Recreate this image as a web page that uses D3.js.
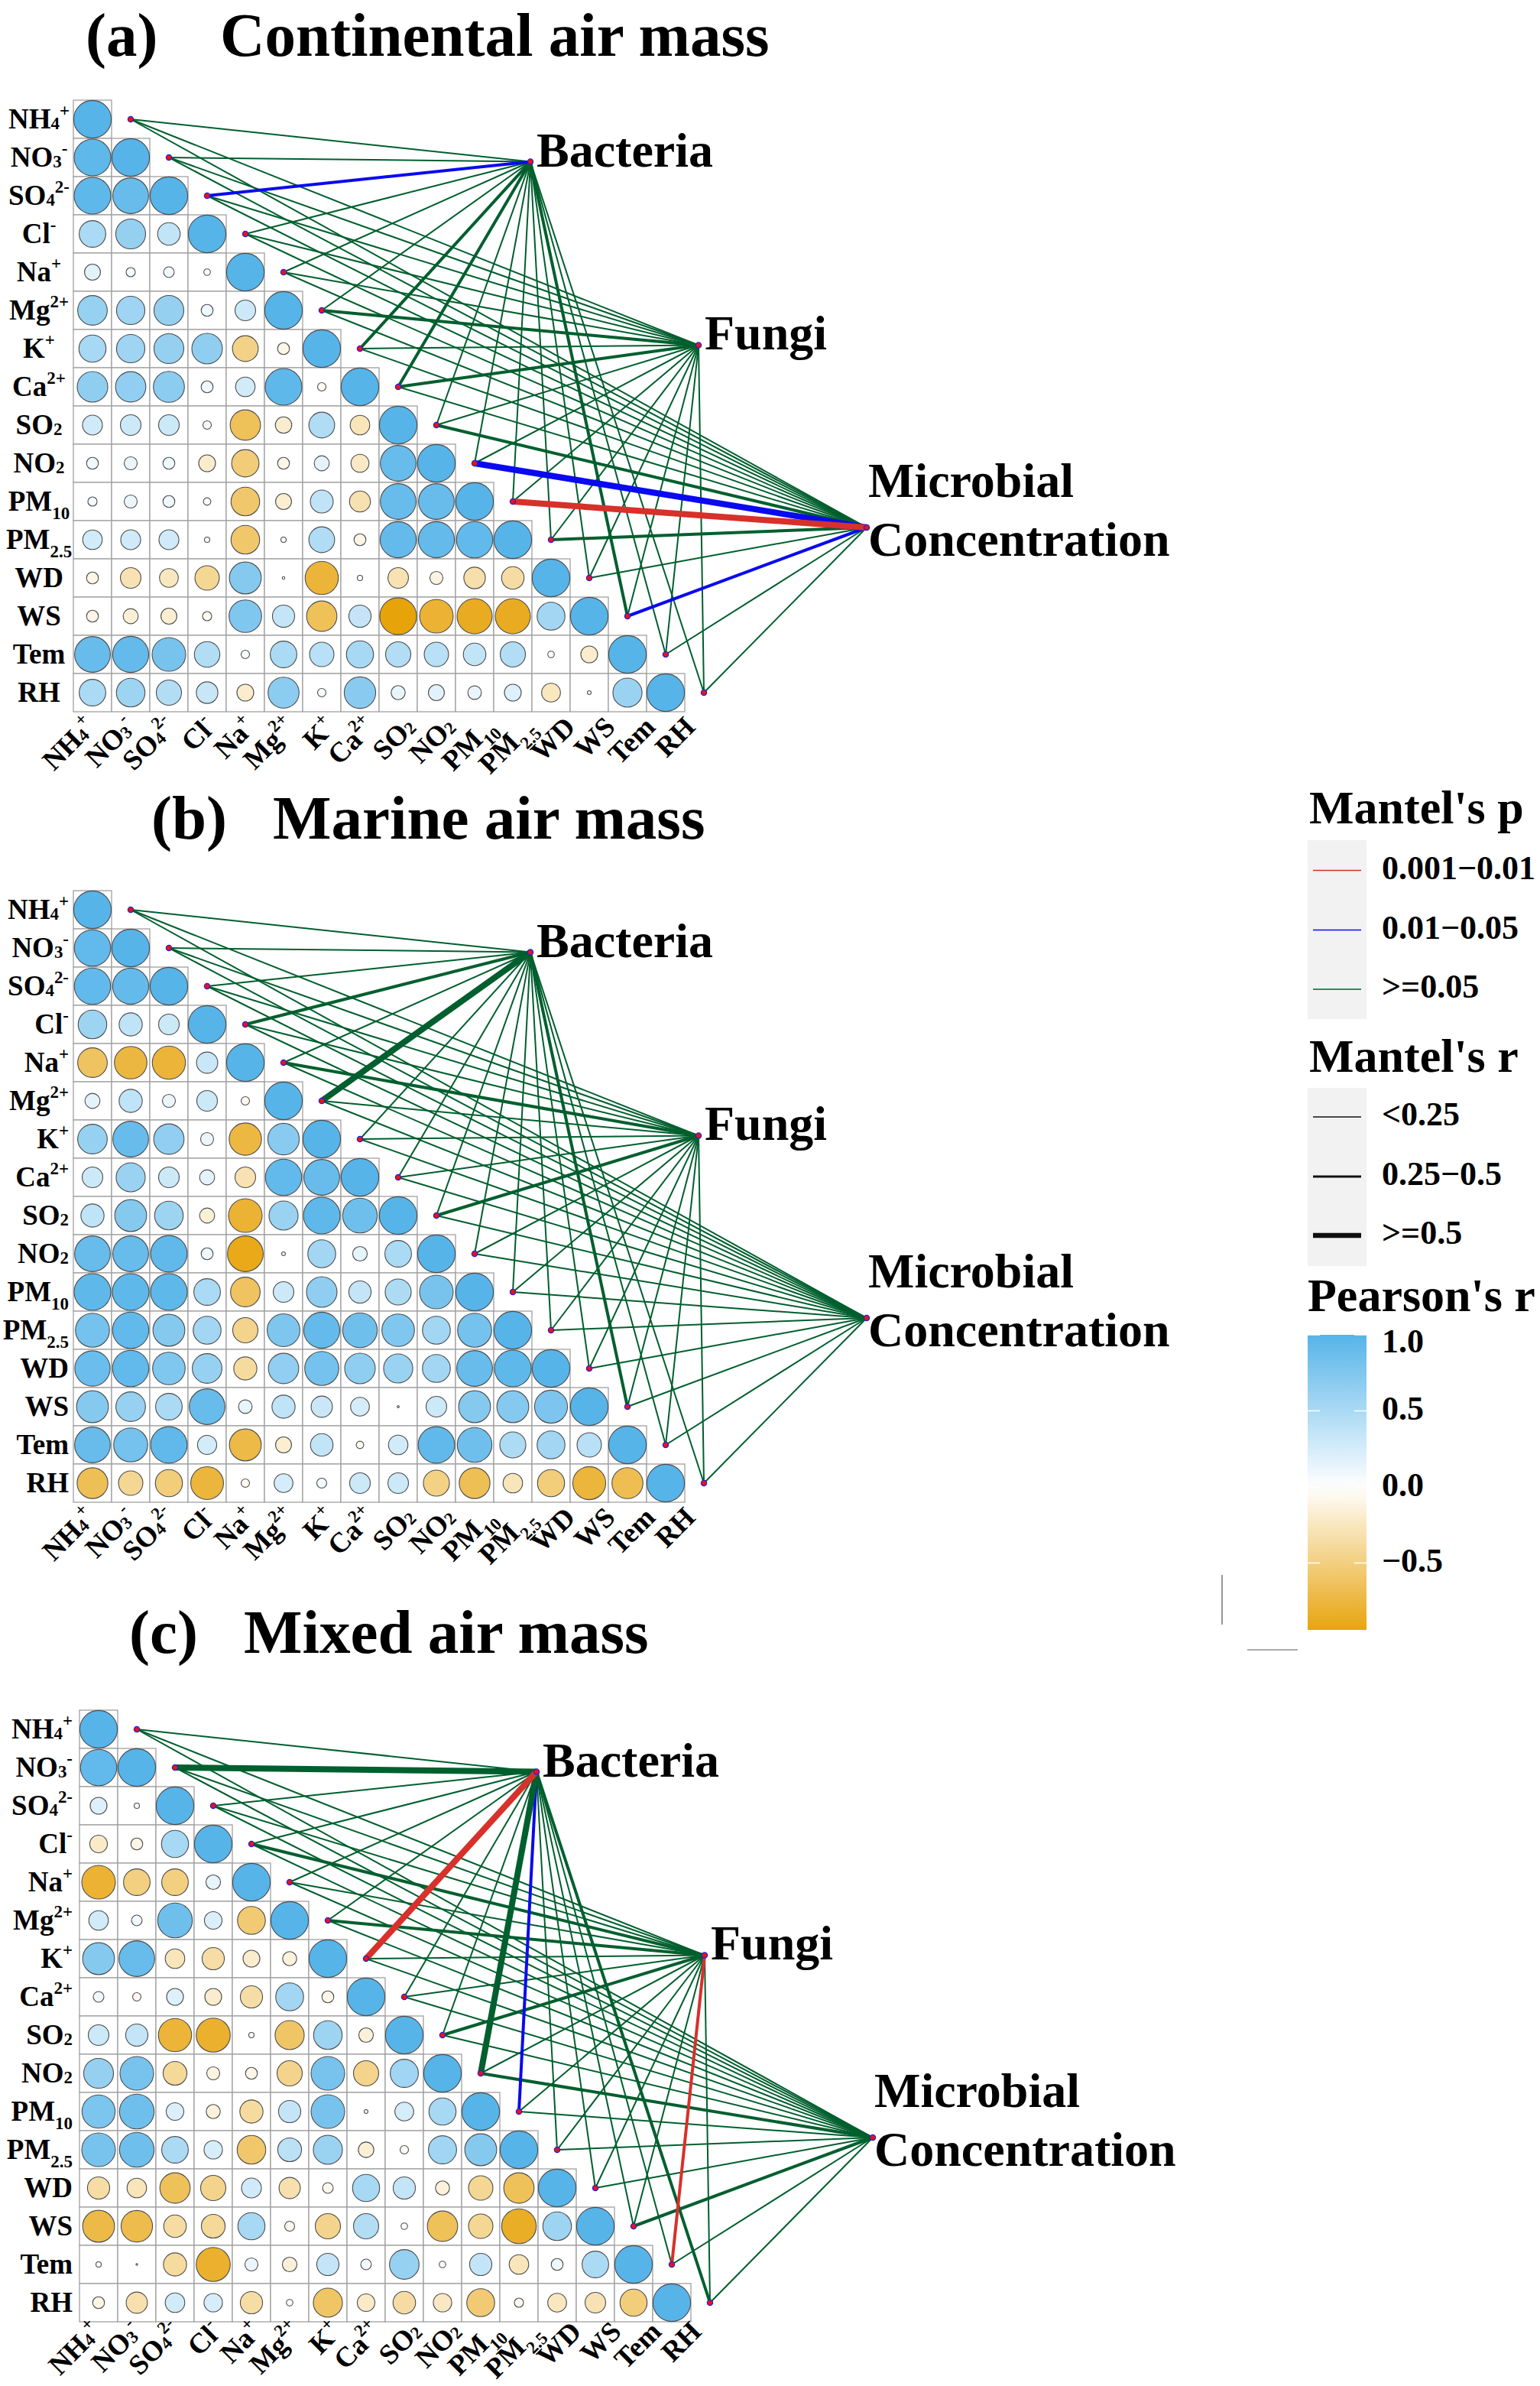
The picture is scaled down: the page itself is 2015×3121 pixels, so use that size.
<!DOCTYPE html>
<html><head><meta charset="utf-8">
<script src="https://cdn.jsdelivr.net/npm/d3@7"></script>
<style>body{margin:0;background:#fff} svg{display:block}</style>
</head><body><svg id="chart" width="2015" height="3121"></svg>
<script>
// ---------------- DATA ----------------
const variables = ["NH4+","NO3-","SO42-","Cl-","Na+","Mg2+","K+","Ca2+","SO2","NO2","PM10","PM2.5","WD","WS","Tem","RH"];
const targets = ["Bacteria","Fungi","Microbial Concentration"];
const panelTitles = [["(a)","Continental air mass"],["(b)","Marine air mass"],["(c)","Mixed air mass"]];

// Pearson's r, lower triangle (row i: columns 0..i)
const corrA = [
 [1],
 [.95,1],
 [.95,.9,1],
 [.5,.63,.36,1],
 [.18,.06,.08,.03,1],
 [.62,.57,.63,.1,.3,1],
 [.52,.57,.63,.66,-.47,-.1,1],
 [.66,.65,.68,.1,.27,.95,-.05,1],
 [.28,.3,.3,.05,-.65,-.19,.47,-.27,1],
 [.1,.12,.1,-.2,-.53,-.1,.16,-.23,.9,1],
 [.06,.12,.1,.04,-.58,-.18,.37,-.31,.9,.9,1],
 [.27,.28,.28,.02,-.58,.02,.47,-.1,.92,.92,.93,1],
 [-.1,-.3,-.25,-.42,.72,.005,-.78,.02,-.3,-.12,-.33,-.36,1],
 [-.1,-.16,-.18,-.06,.75,.35,-.65,.35,-.96,-.8,-.87,-.87,.55,1],
 [.9,.92,.8,.46,.05,.5,.42,.52,.45,.42,.36,.45,.03,-.2,1],
 [.5,.58,.45,.33,-.2,.68,.05,.7,.14,.18,.13,.2,-.25,.01,.6,1]
];
const corrB = [
 [1],
 [.93,1],
 [.93,.92,1],
 [.58,.38,.3,1],
 [-.62,-.75,-.78,.32,1],
 [.16,.38,.12,.3,-.05,1],
 [.62,.9,.65,.12,-.74,.7,1],
 [.3,.6,.3,.16,-.3,.93,.9,1],
 [.38,.72,.58,-.16,-.8,.6,.95,.85,1],
 [.9,.9,.94,.1,-.9,.01,.55,.15,.5,1],
 [.95,.95,.95,.5,-.62,.3,.66,.35,.48,.8,1],
 [.82,.93,.72,.55,-.45,.76,.92,.85,.75,.55,.82,1],
 [.88,.93,.75,.62,-.38,.65,.82,.66,.6,.55,.9,.95,1],
 [.72,.62,.5,.9,.13,.38,.32,.25,.003,.3,.72,.72,.77,1],
 [.9,.82,.94,.26,-.72,-.18,.36,-.04,.27,.94,.85,.48,.55,.42,1],
 [-.67,-.42,-.52,-.76,-.05,.25,.07,.3,.3,-.48,-.67,-.27,-.52,-.77,-.68,1]
];
const corrC = [
 [1],
 [.93,1],
 [.2,.02,1],
 [-.22,-.1,.52,1],
 [-.8,-.5,-.5,.15,1],
 [.27,.08,.85,.22,-.55,1],
 [.72,.9,-.27,-.35,-.2,-.14,1],
 [.08,-.05,.2,-.2,-.35,.55,-.1,1],
 [.3,.35,-.78,-.82,-.02,-.6,.58,-.15,1],
 [.63,.8,-.4,-.12,-.1,-.45,.8,-.45,.56,1],
 [.78,.85,.22,-.14,-.38,.35,.8,.01,.25,.52,1],
 [.8,.85,.5,.24,-.58,.4,.6,-.17,-.05,.56,.72,1],
 [-.35,-.27,-.65,-.45,.28,-.32,-.08,.52,.35,-.14,-.42,-.65,1],
 [-.72,-.7,-.36,-.4,.52,-.07,-.45,.45,.03,-.65,-.42,-.85,.58,1],
 [.02,.002,-.38,-.82,.12,-.15,.35,.08,.62,-.03,.35,-.27,.1,.5,1],
 [-.1,-.32,.27,.24,-.35,.03,-.6,-.22,-.36,-.24,-.55,-.06,-.25,-.3,-.52,1]
];

// Mantel's r and p: per variable, [Bacteria, Fungi, Microbial Concentration]
const mantelR_A = [[.08,.06,.1],[.1,.07,.12],[.32,.1,.09],[.09,.11,.08],[.05,.1,.07],[.12,.3,.1],[.3,.12,.1],[.33,.31,.09],[.1,.12,.3],[.11,.1,.56],[.12,.1,.52],[.1,.13,.3],[.09,.08,.1],[.28,.1,.3],[.1,.08,.12],[.07,.1,.09]];
const mantelP_A = [[.4,.5,.3],[.3,.4,.5],[.03,.3,.4],[.5,.3,.4],[.6,.4,.5],[.3,.1,.4],[.1,.3,.4],[.08,.1,.4],[.4,.3,.1],[.3,.4,.03],[.3,.4,.005],[.4,.3,.1],[.5,.6,.4],[.1,.4,.03],[.4,.5,.3],[.6,.4,.5]];
const mantelR_B = [[.1,.08,.06],[.09,.1,.07],[.1,.11,.08],[.3,.1,.09],[.12,.3,.1],[.55,.1,.08],[.1,.12,.09],[.11,.1,.07],[.1,.32,.1],[.08,.1,.12],[.09,.1,.1],[.1,.08,.11],[.07,.1,.09],[.3,.1,.1],[.1,.09,.08],[.08,.1,.1]];
const mantelP_B = [[.3,.4,.5],[.4,.3,.5],[.3,.3,.4],[.1,.4,.5],[.3,.1,.4],[.06,.3,.5],[.4,.3,.4],[.3,.4,.5],[.4,.1,.4],[.5,.4,.3],[.4,.4,.4],[.4,.5,.3],[.5,.4,.4],[.1,.4,.4],[.4,.4,.5],[.5,.4,.4]];
const mantelR_C = [[.1,.08,.07],[.58,.1,.1],[.1,.12,.09],[.1,.3,.08],[.12,.1,.1],[.1,.31,.09],[.55,.1,.11],[.09,.1,.08],[.1,.3,.1],[.6,.12,.3],[.33,.1,.1],[.1,.09,.12],[.08,.1,.1],[.12,.1,.3],[.1,.3,.09],[.3,.1,.1]];
const mantelP_C = [[.4,.5,.4],[.06,.4,.3],[.4,.3,.5],[.4,.1,.5],[.3,.4,.4],[.4,.1,.5],[.005,.4,.3],[.5,.4,.4],[.4,.1,.4],[.06,.3,.1],[.03,.4,.4],[.4,.5,.3],[.5,.4,.4],[.3,.4,.1],[.4,.005,.5],[.1,.4,.4]];

// Legend contents
const pLegend = [["0.001\u22120.01",0.005],["0.01\u22120.05",0.03],[">=0.05",0.2]];
const rLegend = [["<0.25",0.1],["0.25\u22120.5",0.35],[">=0.5",0.6]];
const colorTicks = [1.0,0.5,0.0,-0.5];
const colorTickLabels = ["1.0","0.5","0.0","\u22120.5"];

// ---------------- LAYOUT / STYLE ----------------
const FONT = "'Liberation Serif','Times New Roman',serif";
const cell = 50;
const panels = [
  {ox:96,  oy:131,  titleY:73,   tx1:112, tx2:288, corr:corrA, mr:mantelR_A, mp:mantelP_A, lab:{anchor:"middle", dx:-45}, bdy:22},
  {ox:96,  oy:1165, titleY:1097, tx1:198, tx2:357, corr:corrB, mr:mantelR_B, mp:mantelP_B, lab:{anchor:"end", dx:-6}, bdy:22},
  {ox:104, oy:2237, titleY:2162, tx1:169, tx2:319, corr:corrC, mr:mantelR_C, mp:mantelP_C, lab:{anchor:"end", dx:-9}, bdy:15}
];
const targetPos = [[598,80.5],[818,320.5],[1038,559]];

const labelSegs = {
 "NH4+":[["NH"],["4","lo"],["+","sup"]],
 "NO3-":[["NO"],["3","lo"],["-","sup"]],
 "SO42-":[["SO"],["4","lo"],["2-","sup"]],
 "Cl-":[["Cl"],["-","sup"]],
 "Na+":[["Na"],["+","sup"]],
 "Mg2+":[["Mg"],["2+","sup"]],
 "K+":[["K"],["+","sup"]],
 "Ca2+":[["Ca"],["2+","sup"]],
 "SO2":[["SO"],["2","lo"]],
 "NO2":[["NO"],["2","lo"]],
 "PM10":[["PM"],["10","sub"]],
 "PM2.5":[["PM"],["2.5","sub"]],
 "WD":[["WD"]],"WS":[["WS"]],"Tem":[["Tem"]],"RH":[["RH"]]
};

const color = d3.scaleLinear().domain([-1,0,1]).range(["#E69F00","#FFFFFF","#56B4E9"]).interpolate(d3.interpolateRgb);
const rad = d3.scaleSqrt().domain([0,1]).range([0,24.6]);
const pColor = d3.scaleThreshold().domain([0.01,0.05]).range(["#d8302a","#0a0af0","#005f2e"]);
const rWidth = d3.scaleThreshold().domain([0.25,0.5]).range([2,4,8]);

const svg = d3.select("#chart");
svg.append("rect").attr("width",2015).attr("height",3121).attr("fill","#fff");

function writeLabel(t, key, fs){
  (labelSegs[key]||[[key]]).forEach(([s,k])=>{
    const ts = t.append("tspan").text(s);
    if(k==="sup"){ ts.attr("font-size",fs*0.62).attr("baseline-shift",fs*0.42); }
    else if(k==="lo"){ ts.attr("font-size",fs*0.62).attr("baseline-shift",-fs*0.04); }
    else if(k==="sub"){ ts.attr("font-size",fs*0.62).attr("baseline-shift",-fs*0.3); }
  });
}

panels.forEach((P,pi)=>{
  const g = svg.append("g");
  const band = d3.scaleBand().domain(variables).range([0, cell*variables.length]);
  const X = v=>P.ox + band(v), Y = v=>P.oy + band(v);

  // title
  g.append("text").attr("x",P.tx1).attr("y",P.titleY).attr("font-family",FONT).attr("font-weight","bold").attr("font-size",81).text(panelTitles[pi][0]);
  g.append("text").attr("x",P.tx2).attr("y",P.titleY).attr("font-family",FONT).attr("font-weight","bold").attr("font-size",81).text(panelTitles[pi][1]);

  // cells
  const cells = [];
  P.corr.forEach((row,i)=>row.forEach((r,j)=>cells.push({row:variables[i], col:variables[j], r})));
  g.selectAll("rect.cell").data(cells).join("rect").attr("class","cell")
    .attr("x",d=>X(d.col)).attr("y",d=>Y(d.row)).attr("width",band.bandwidth()).attr("height",band.bandwidth())
    .attr("fill","#fff").attr("stroke","#a0a0a0").attr("stroke-width",1.3);
  g.selectAll("circle.cc").data(cells).join("circle").attr("class","cc")
    .attr("cx",d=>X(d.col)+band.bandwidth()/2).attr("cy",d=>Y(d.row)+band.bandwidth()/2)
    .attr("r",d=>Math.max(rad(Math.abs(d.r)),0.8)).attr("fill",d=>color(d.r))
    .attr("stroke","#4d4d4d").attr("stroke-width",1.1);

  // row labels
  variables.forEach((v,i)=>{
    const t = g.append("text").attr("x",P.ox+P.lab.dx).attr("y",Y(v)+cell/2+12)
      .attr("text-anchor",P.lab.anchor).attr("font-family",FONT).attr("font-weight","bold").attr("font-size",37);
    writeLabel(t,v,37);
  });
  // column labels
  const bottom = P.oy + cell*variables.length;
  variables.forEach((v,i)=>{
    const x = X(v)+cell/2+6+2.3*i, y = bottom+P.bdy;
    const t = g.append("text").attr("transform",`translate(${x},${y}) rotate(-45)`)
      .attr("text-anchor","end").attr("font-family",FONT).attr("font-weight","bold").attr("font-size",37);
    writeLabel(t,v,37);
  });

  // mantel links
  const nodes = variables.map((v,i)=>({v, x:X(v)+cell*1.5, y:Y(v)+cell/2}));
  const tnodes = targets.map((t,j)=>({t, x:P.ox+targetPos[j][0], y:P.oy+targetPos[j][1]}));
  const links = [];
  variables.forEach((v,i)=>targets.forEach((t,j)=>links.push({s:nodes[i], e:tnodes[j], r:P.mr[i][j], p:P.mp[i][j]})));
  links.sort((a,b)=>rWidth(a.r)-rWidth(b.r) || (b.p-a.p));
  g.selectAll("line.lk").data(links).join("line").attr("class","lk")
    .attr("x1",d=>d.s.x).attr("y1",d=>d.s.y).attr("x2",d=>d.e.x).attr("y2",d=>d.e.y)
    .attr("stroke",d=>pColor(d.p)).attr("stroke-width",d=>rWidth(d.r));
  g.selectAll("circle.nd").data(nodes.concat(tnodes)).join("circle").attr("class","nd")
    .attr("cx",d=>d.x).attr("cy",d=>d.y).attr("r",3.6).attr("fill","#ee1111").attr("stroke","#2020e0").attr("stroke-width",1.3);

  // target labels
  const tl = (x,y,s)=>g.append("text").attr("x",x).attr("y",y).attr("font-family",FONT).attr("font-weight","bold").attr("font-size",64).text(s);
  tl(tnodes[0].x+8, tnodes[0].y+6, "Bacteria");
  tl(tnodes[1].x+8, tnodes[1].y+5, "Fungi");
  tl(tnodes[2].x+2, tnodes[2].y-40, "Microbial");
  tl(tnodes[2].x+2, tnodes[2].y+37, "Concentration");
});

// ---------------- LEGEND ----------------
const L = svg.append("g").attr("font-family",FONT).attr("font-weight","bold");
const lx = 1711, lw = 77, labX = 1808;
L.append("text").attr("x",1713).attr("y",1077).attr("font-size",62).text("Mantel's p");
L.append("rect").attr("x",lx).attr("y",1099).attr("width",lw).attr("height",234).attr("fill","#f2f2f2");
const pY = [1138.5,1216.5,1294];
pLegend.forEach(([lab,p],i)=>{
  L.append("line").attr("x1",lx+7).attr("x2",lx+70).attr("y1",pY[i]).attr("y2",pY[i]).attr("stroke",pColor(p)).attr("stroke-width",1.6);
  L.append("text").attr("x",labX).attr("y",pY[i]+11).attr("font-size",44).text(lab);
});
L.append("text").attr("x",1713).attr("y",1402).attr("font-size",62).text("Mantel's r");
L.append("rect").attr("x",lx).attr("y",1423).attr("width",lw).attr("height",233).attr("fill","#f2f2f2");
const rY = [1461,1539,1616];
rLegend.forEach(([lab,r],i)=>{
  L.append("line").attr("x1",lx+7).attr("x2",lx+70).attr("y1",rY[i]).attr("y2",rY[i]).attr("stroke","#111").attr("stroke-width",[1.5,3,6.5][i]);
  L.append("text").attr("x",labX).attr("y",rY[i]+11).attr("font-size",44).text(lab);
});
L.append("text").attr("x",1711).attr("y",1715).attr("font-size",62).text("Pearson's r");
const cbar = d3.scaleLinear().domain([1,-0.94]).range([1746,2132]);
const grad = svg.append("defs").append("linearGradient").attr("id","cg").attr("x1",0).attr("x2",0).attr("y1",0).attr("y2",1);
d3.range(0,21).forEach(k=>{
  const v = 1 - k*(1.94/20);
  grad.append("stop").attr("offset",(k/20*100)+"%").attr("stop-color",color(v));
});
L.append("rect").attr("x",lx).attr("y",cbar(1)).attr("width",lw).attr("height",cbar(-0.94)-cbar(1)).attr("fill","url(#cg)");
colorTicks.forEach((v,i)=>{
  const y = cbar(v);
  L.append("line").attr("x1",lx).attr("x2",lx+16).attr("y1",y).attr("y2",y).attr("stroke","#fff").attr("stroke-width",1.5);
  L.append("line").attr("x1",lx+lw-16).attr("x2",lx+lw).attr("y1",y).attr("y2",y).attr("stroke","#fff").attr("stroke-width",1.5);
  L.append("text").attr("x",labX).attr("y",Math.max(y,cbar(1)+11)+12).attr("font-size",44).text(colorTickLabels[i]);
});
// stray axis fragments present in the original
L.append("line").attr("x1",1599).attr("x2",1599).attr("y1",2060).attr("y2",2125).attr("stroke","#999").attr("stroke-width",2);
L.append("line").attr("x1",1632).attr("x2",1698).attr("y1",2158).attr("y2",2158).attr("stroke","#aaa").attr("stroke-width",2);
</script></body></html>
